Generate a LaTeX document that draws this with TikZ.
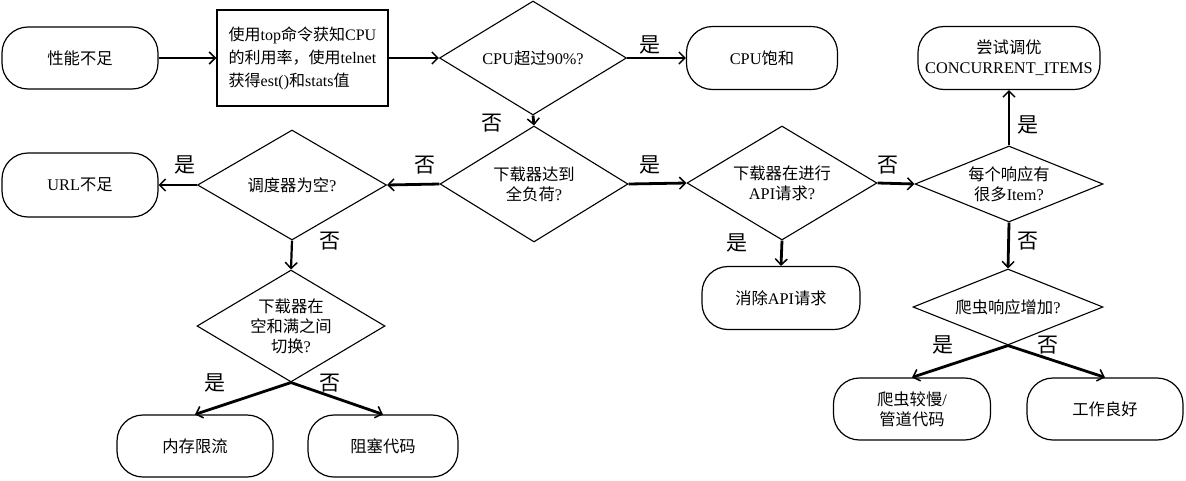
\documentclass[tikz,border=0pt]{standalone}
\usepackage{fontspec}
\setmainfont{Liberation Serif}
\newfontfamily\cjk{Noto Sans CJK SC}
\usetikzlibrary{shapes.geometric,arrows.meta}
\newcommand\nodefs{\fontsize{16.3}{20}\selectfont}
\newcommand\labfs{\fontsize{21}{24}\selectfont\cjk}
\begin{document}
\begin{tikzpicture}[x=1pt,y=-1pt,
  term/.style={draw, line width=1.2pt, rounded corners=26pt, minimum width=156pt, minimum height=62pt, inner sep=0pt, align=center, font=\nodefs},
  dec/.style={draw, diamond, line width=1.1pt, minimum width=188pt, minimum height=114pt, inner sep=0pt},
  dtext/.style={align=center, font=\nodefs, inner sep=0pt},
  procbox/.style={draw, line width=1.4pt, minimum width=171pt, minimum height=96pt, inner sep=0pt, align=left, font=\fontsize{16}{23}\selectfont},
  arr/.style={-{Straight Barb[length=6pt,width=12pt,line width=1.5pt]}, line width=2.8pt},
  lab/.style={font=\labfs, inner sep=0pt}]
\useasboundingbox (0,0) rectangle (1186,480);
% terminals
\node[term] (tperf) at (80,58) {\cjk 性能不足};
\node[term, minimum width=151pt, minimum height=63pt] (tcpu) at (762,58) {CPU{\cjk 饱和}};
\node[term, minimum width=182pt, minimum height=63pt] (ttune) at (1009,58) {{\cjk 尝试调优}\\CONCURRENT\_ITEMS};
\node[term, minimum height=64pt] (turl) at (80,185) {URL{\cjk 不足}};
\node[term, minimum width=158pt, minimum height=63pt] (tapi) at (781,298) {{\cjk 消除}API{\cjk 请求}};
\node[term] (tmem) at (195,446) {\cjk 内存限流};
\node[term, minimum width=150pt] (tblock) at (383,446) {\cjk 阻塞代码};
\node[term, minimum width=157pt] (tslow) at (912,409) {{\cjk 爬虫较慢}/\\{\cjk 管道代码}};
\node[term] (tgood) at (1105,409) {\cjk 工作良好};
% process box
\node[procbox] (box) at (302.5,58) {{\cjk 使用}top{\cjk 命令获知}CPU\\{\cjk 的利用率，使用}telnet\\{\cjk 获得}est(){\cjk 和}stats{\cjk 值}};
% decisions
\node[dec, minimum width=187pt] (dcpu) at (533,58) {};
\node[dtext] (dcpuT) at (dcpu) {CPU{\cjk 超过}90\%?};
\node[dec, minimum height=116pt] (dfull) at (534,184) {};
\node[dtext] (dfullT) at (dfull) {{\cjk 下载器达到}\\{\cjk 全负荷}?};
\node[dec, minimum width=190pt] (dapi) at (782,183) {};
\node[dtext] (dapiT) at (dapi) {{\cjk 下载器在进行}\\API{\cjk 请求}?};
\node[dec, minimum height=76pt] (ditem) at (1009,184) {};
\node[dtext] (ditemT) at (ditem) {{\cjk 每个响应有}\\{\cjk 很多}Item?};
\node[dec, minimum width=190pt, minimum height=76pt] (dcrawl) at (1008,307) {};
\node[dtext] (dcrawlT) at (dcrawl) {{\cjk 爬虫响应增加}?};
\node[dec, minimum width=189pt, minimum height=110pt] (dsched) at (292,185) {};
\node[dtext] (dschedT) at (dsched) {{\cjk 调度器为空}?};
\node[dec, minimum height=112pt] (dswitch) at (291,326) {};
\node[dtext] (dswitchT) at (dswitch) {{\cjk 下载器在}\\{\cjk 空和满之间}\\{\cjk 切换}?};
% connectors
\draw[arr] (tperf.east) -- (box.west);
\draw[arr] (box.east) -- (dcpu.west);
\draw[arr] (dcpu.east) -- (tcpu.west);
\draw[arr] (dcpu.south) -- (dfull.north);
\draw[arr] (dfull.east) -- (dapi.west);
\draw[arr] (dfull.west) -- (dsched.east);
\draw[arr] (dsched.west) -- (turl.east);
\draw[arr, line width=2.2pt] (dsched.south) -- (dswitch.north);
\draw[arr] (dswitch.south) -- (tmem.north);
\draw[arr] (dswitch.south) -- (tblock.north);
\draw[arr] (dapi.south) -- (tapi.north);
\draw[arr] (dapi.east) -- (ditem.west);
\draw[arr] (ditem.north) -- (ttune.south);
\draw[arr] (ditem.south) -- (dcrawl.north);
\draw[arr] (dcrawl.south) -- (tslow.north);
\draw[arr] (dcrawl.south) -- (tgood.north);
% labels
\node[lab] (l1) at (650,45) {是};
\node[lab] (l2) at (492,123) {否};
\node[lab] (l3) at (425,165) {否};
\node[lab] (l4) at (185,165) {是};
\node[lab] (l5) at (330,241) {否};
\node[lab] (l6) at (650,165) {是};
\node[lab] (l7) at (737,243) {是};
\node[lab] (l8) at (888,165) {否};
\node[lab] (l9) at (1028,125) {是};
\node[lab] (l10) at (1028,241) {否};
\node[lab] (l11) at (943,345) {是};
\node[lab] (l12) at (1048,345) {否};
\node[lab] (l13) at (215,383) {是};
\node[lab] (l14) at (330,383) {否};
\end{tikzpicture}
\end{document}
